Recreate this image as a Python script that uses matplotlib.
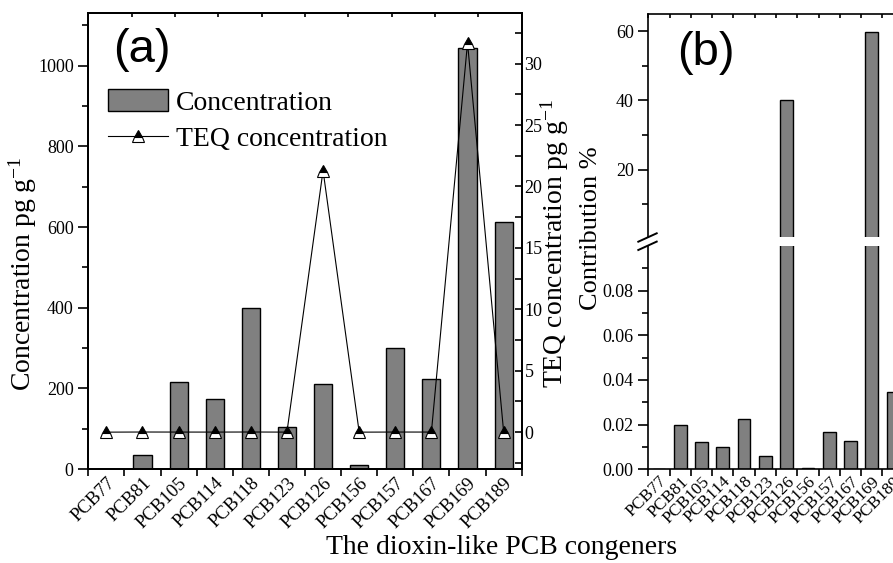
import matplotlib
matplotlib.use('Agg')
import matplotlib.pyplot as plt
from matplotlib.patches import Patch
from matplotlib.lines import Line2D
from matplotlib.ticker import FixedLocator, MultipleLocator, FormatStrFormatter
from matplotlib.transforms import ScaledTranslation

plt.rcParams['font.family'] = ['Liberation Serif', 'DejaVu Serif']
plt.rcParams['mathtext.fontset'] = 'custom'
plt.rcParams['mathtext.rm'] = 'Liberation Serif'
plt.rcParams['mathtext.it'] = 'Liberation Serif:italic'
plt.rcParams['axes.linewidth'] = 1.2

congeners = ['PCB77', 'PCB81', 'PCB105', 'PCB114', 'PCB118', 'PCB123',
             'PCB126', 'PCB156', 'PCB157', 'PCB167', 'PCB169', 'PCB189']
concentration = [0, 35, 216, 173, 400, 104, 211, 9, 301, 223, 1045, 612]
teq = [0, 0.011, 0.007, 0.005, 0.012, 0.003, 21.3, 0.0002, 0.009, 0.007, 31.7, 0.018]
contribution = [0, 0.0198, 0.0123, 0.0098, 0.0226, 0.0058, 40.1,
                0.0004, 0.0169, 0.0126, 59.8, 0.0348]

W, H = 893, 563
fig = plt.figure(figsize=(W / 100, H / 100), dpi=100)


# axes box from pixel coords (y measured from top)
def box(x0, y0, x1, y1):
    return [x0 / W, 1 - y1 / H, (x1 - x0) / W, (y1 - y0) / H]


def px(x, y):
    return x / W, 1 - y / H


xs = list(range(len(congeners)))
edges = [i - 0.5 for i in range(len(congeners) + 1)]
GREY = '#808080'

# ---------------- panel (a) ----------------
ax = fig.add_axes(box(88.3, 13.3, 521.7, 469))
ax.bar(xs, concentration, width=0.5, color=GREY, edgecolor='black', lw=1)
ax.set_xlim(-0.5, 11.5)
ax.set_ylim(0, 1130)
ax.yaxis.set_major_locator(MultipleLocator(200))
ax.yaxis.set_minor_locator(MultipleLocator(100))
ax.set_xticks(xs)
ax.set_xticklabels(congeners, rotation=45, ha='right', rotation_mode='anchor', fontsize=13.5)
shift_a = ScaledTranslation(-4 / 100, 0, fig.dpi_scale_trans)
for lbl in ax.get_xticklabels():
    lbl.set_transform(lbl.get_transform() + shift_a)
ax.xaxis.set_minor_locator(FixedLocator(edges))
ax.tick_params(axis='x', which='major', length=0, pad=4)
ax.tick_params(axis='x', which='minor', length=5, width=1.2, direction='out')
ax.tick_params(axis='y', which='major', length=7, width=1.2, direction='out', labelsize=13)
ax.tick_params(axis='y', which='minor', length=4, width=1.2, direction='out')

ax2 = ax.twinx()
ax2.plot(xs, teq, color='black', lw=0.8, marker='^', ms=9, fillstyle='top',
         markerfacecolor='black', markerfacecoloralt='white', markeredgecolor='black',
         markeredgewidth=0.8)
ax2.set_ylim(-3, 34.1)
ax2.yaxis.set_major_locator(MultipleLocator(5))
ax2.yaxis.set_minor_locator(MultipleLocator(2.5))
ax2.tick_params(axis='y', which='both', length=5, width=1.2, direction='in', labelsize=13, pad=2)

# top axis ticks (10 equal divisions)
ax3 = ax.twiny()
ax3.set_xlim(0, 10)
ax3.set_xticks(range(11))
ax3.tick_params(axis='x', length=3, width=1.2, direction='in', labeltop=False)
ax3.yaxis.set_visible(False)

handles = [Patch(facecolor=GREY, edgecolor='black'),
           Line2D([], [], color='black', lw=0.8, marker='^', ms=9, fillstyle='top',
                  markerfacecolor='black', markerfacecoloralt='white',
                  markeredgecolor='black', markeredgewidth=0.8)]
fig.legend(handles, ['Concentration', 'TEQ concentration'], loc='upper left',
           bbox_to_anchor=px(108, 89), frameon=False, fontsize=20, borderpad=0,
           borderaxespad=0, handlelength=2.16, handleheight=0.83, handletextpad=0.3,
           labelspacing=0.36, numpoints=1)

fig.text(*px(142, 50), '(a)', fontsize=34, family='Liberation Sans', ha='center', va='center')
fig.text(*px(23, 274), 'Concentration pg g$^{-1}$', fontsize=20, rotation=90,
         ha='center', va='center')
fig.text(*px(555, 243), 'TEQ concentration pg g$^{-1}$', fontsize=20, rotation=90,
         ha='center', va='center')

# ---------------- panel (b), broken axis ----------------
lo = fig.add_axes(box(648.3, 245.8, 903.7, 469.3))
up = fig.add_axes(box(648.3, 14, 903.7, 236.8))
for a in (lo, up):
    a.bar(xs, contribution, width=0.6, color=GREY, edgecolor='black', lw=1)
    a.set_xlim(-0.5, 11.5)
    a.xaxis.set_minor_locator(FixedLocator(edges))
lo.set_ylim(0, 0.1)
up.set_ylim(0.6, 65)
lo.spines['top'].set_visible(False)
up.spines['bottom'].set_visible(False)

lo.set_yticks([0, 0.02, 0.04, 0.06, 0.08])
lo.yaxis.set_minor_locator(FixedLocator([0.01, 0.03, 0.05, 0.07, 0.09]))
lo.yaxis.set_major_formatter(FormatStrFormatter('%.2f'))
lo.set_xticks(xs)
lo.set_xticklabels(congeners, rotation=45, ha='right', rotation_mode='anchor', fontsize=12.5)
shift_b = ScaledTranslation(-20 / 100, 0, fig.dpi_scale_trans)
for lbl in lo.get_xticklabels():
    lbl.set_transform(lbl.get_transform() + shift_b)
lo.tick_params(axis='x', which='major', length=0, pad=3)
lo.tick_params(axis='x', which='minor', length=5, width=1.2, direction='out')

up.set_yticks([20, 40, 60])
up.yaxis.set_minor_locator(FixedLocator([10, 30, 50]))
up.set_xticks([])
up.tick_params(axis='x', which='minor', bottom=False, top=True, length=3, width=1.2,
               direction='in')

for a in (lo, up):
    a.tick_params(axis='y', which='major', length=7, width=1.2, direction='out', labelsize=13)
    a.tick_params(axis='y', which='minor', length=4, width=1.2, direction='out')

# break marks on the left spine
for y0 in (241.7, 250):
    x0, y0f = px(638.3, y0)
    x1, y1f = px(656.7, y0 - 8.4)
    fig.add_artist(Line2D([x0, x1], [y0f, y1f], color='black', lw=1.4,
                          transform=fig.transFigure))

fig.text(*px(591, 228), 'Contribution %', fontsize=19, rotation=90, ha='center', va='center')
fig.text(*px(706, 53), '(b)', fontsize=34, family='Liberation Sans', ha='center', va='center')

fig.text(*px(502, 547), 'The dioxin-like PCB congeners', fontsize=20, ha='center', va='center')

fig.savefig('out.png', dpi=100)
